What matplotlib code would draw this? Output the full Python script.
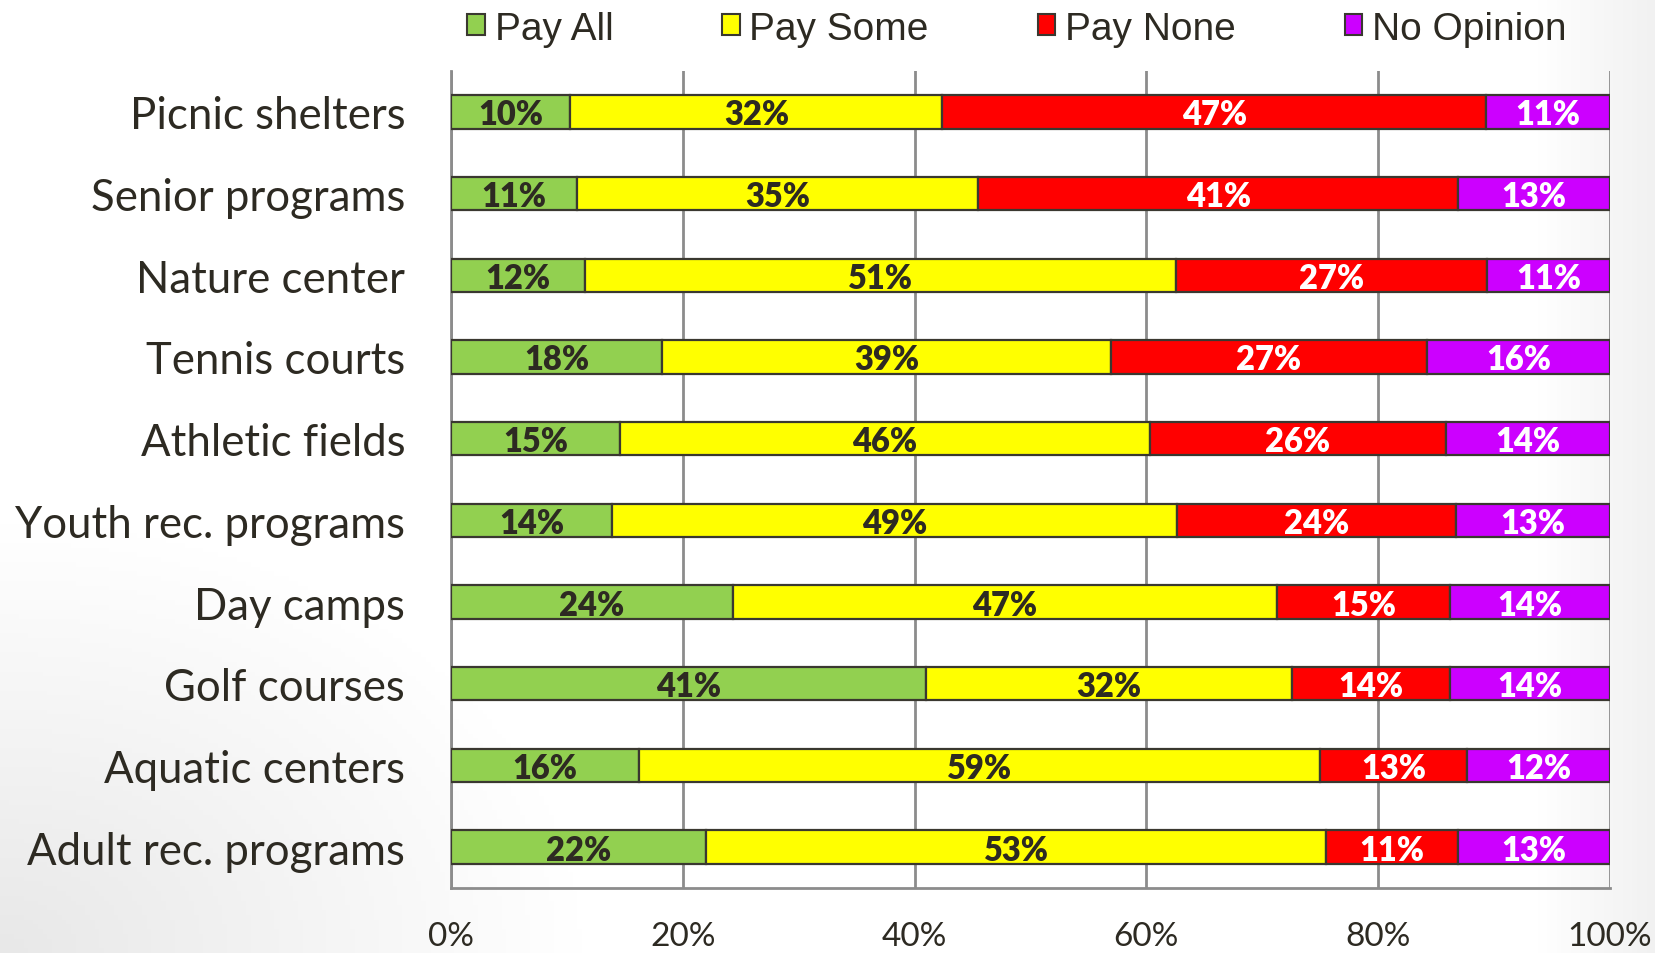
import matplotlib.pyplot as plt
import matplotlib.patches as mpatches
import numpy as np
from matplotlib import font_manager

# categories top to bottom
categories = ["Picnic shelters", "Senior programs", "Nature center", "Tennis courts",
              "Athletic fields", "Youth rec. programs", "Day camps", "Golf courses",
              "Aquatic centers", "Adult rec. programs"]

pay_all = [10.3, 10.9, 11.6, 18.2, 14.6, 13.9, 24.4, 41.0, 16.2, 22.0]
pay_some = [32.1, 34.6, 51.1, 38.7, 45.8, 48.7, 47.0, 31.6, 58.8, 53.4]
pay_none = [46.9, 41.4, 26.9, 27.2, 25.6, 24.0, 15.0, 13.7, 12.7, 11.4]
no_opinion = [10.7, 13.1, 10.6, 15.8, 14.2, 13.3, 13.8, 13.8, 12.3, 13.1]

series_names = ["Pay All", "Pay Some", "Pay None", "No Opinion"]
colors = ["#92D050", "#FFFF00", "#FF0000", "#CC00FF"]
label_colors = ["#2d2a22", "#2d2a22", "white", "white"]
xticks = [0, 20, 40, 60, 80, 100]

dark = "#2d2a22"
names = {f.name for f in font_manager.fontManager.ttflist}
narrow = "Liberation Sans Narrow" if "Liberation Sans Narrow" in names else "Liberation Sans"
main_font = "Lato"

fig = plt.figure(figsize=(16.56, 9.54), dpi=100)

# light slide background gradient
bg = fig.add_axes([0, 0, 1, 1], zorder=-10)
yy, xx = np.mgrid[0:1:200j, 0:1:350j]
d1 = np.clip(1 - np.hypot(xx / 0.35, (1 - yy) / 0.45), 0, 1)
d2 = np.clip((xx - 0.93) / 0.07, 0, 1) * 0.6
shade = 1 - 0.09 * np.maximum(d1, d2)
bg.imshow(np.dstack([shade] * 3), extent=[0, 1, 0, 1], aspect="auto", origin="upper")
bg.axis("off")

ax = fig.add_axes([451 / 1656, 65 / 954, 1159 / 1656, 817 / 954])
ax.patch.set_alpha(0)

data = np.array([pay_all, pay_some, pay_none, no_opinion])
totals = data.sum(axis=0)
shares = data / totals * 100
y = np.arange(len(categories))
left = np.zeros(len(categories))
for i, name in enumerate(series_names):
    bars = ax.barh(y, shares[i], left=left, height=0.41, color=colors[i],
                   edgecolor="#3a3830", linewidth=1.6, zorder=3, label=name)
    for j, b in enumerate(bars):
        ax.text(left[j] + shares[i][j] / 2, y[j] + 0.03, f"{data[i][j]:.0f}%",
                ha="center", va="center", fontsize=23.5, fontweight="heavy",
                color=label_colors[i], family=main_font, zorder=4)
    left += shares[i]

ax.set_xlim(0, 100)
ax.set_ylim(len(categories) - 0.5, -0.5)
ax.set_xticks(xticks)
ax.set_xticklabels([f"{t}%" for t in xticks], fontsize=24, color=dark, family=main_font)
ax.set_yticks(y)
ax.set_yticklabels(categories, fontsize=31.5, color=dark, family=main_font)
ax.tick_params(axis="both", length=0)
ax.tick_params(axis="x", pad=24)
ax.tick_params(axis="y", pad=33)
ax.grid(axis="x", color="#8c8c8c", linewidth=2, zorder=0)
for s in ["top", "right"]:
    ax.spines[s].set_visible(False)
for s in ["left", "bottom"]:
    ax.spines[s].set_color("#8c8c8c")
    ax.spines[s].set_linewidth(2)

handles = [mpatches.Patch(facecolor=c, edgecolor="#3a3830", linewidth=1.5) for c in colors]
fig.legend(handles, series_names, loc="center", bbox_to_anchor=(0.614, 0.969), ncol=4,
           frameon=False, prop={"family": narrow, "size": 28}, labelcolor=dark,
           handlelength=0.45, handleheight=0.45, handletextpad=0.25, columnspacing=2.8)

fig.savefig("out.png", dpi=100)
